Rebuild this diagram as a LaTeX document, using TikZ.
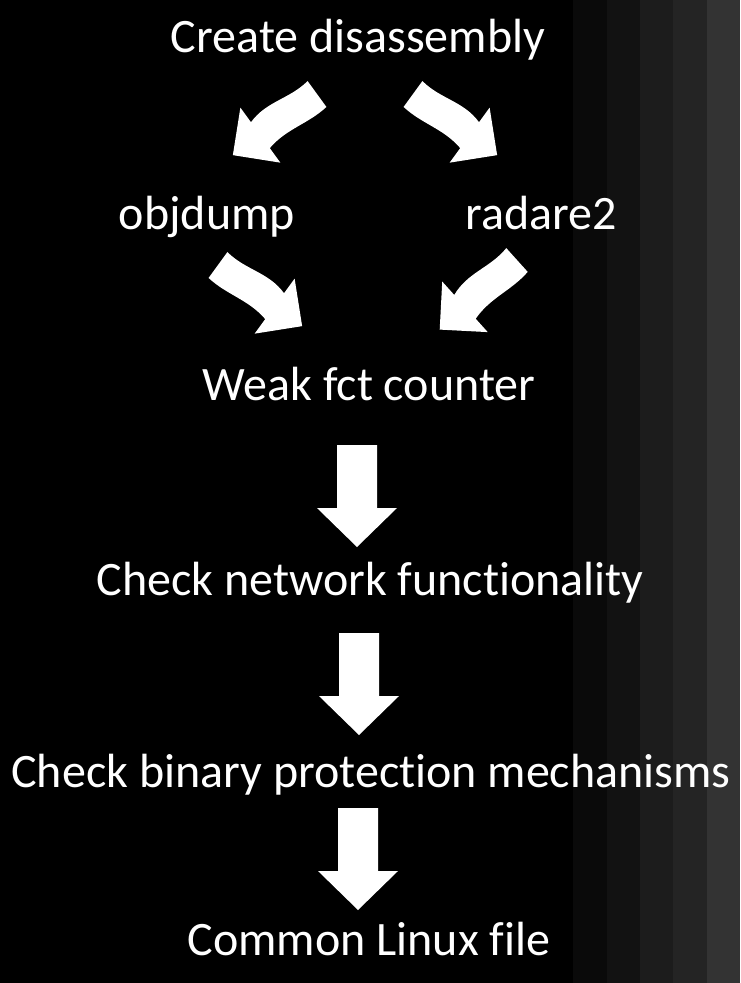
\documentclass[tikz,border=0pt]{standalone}
\usepackage{fontspec}
\setmainfont{Carlito}[Ligatures=NoCommon]
\tikzset{
  lbl/.style={text=white,font=\fontsize{36}{43}\selectfont,inner sep=0pt,anchor=base},
  bendarrow/.pic={
    \fill[white] (0,16) .. controls (25,19) and (45,10) .. (70,16) -- (70,34)
      -- (104,0) -- (70,-34) -- (70,-16) .. controls (45,-24) and (25,-12) .. (0,-16) -- cycle;
  },
  downarrow/.pic={
    \fill[white] (-20,0) -- (20,0) -- (20,-63) -- (40,-63) -- (0,-102)
      -- (-40,-63) -- (-20,-63) -- cycle;
  }
}
\begin{document}
\begin{tikzpicture}[x=0.75pt,y=0.75pt]
        % background
        \fill[black] (0,0) rectangle (740,-983);
        \fill[black!96!white] (573,0) rectangle (607,-983);
        \fill[black!93!white] (607,0) rectangle (640,-983);
        \fill[black!89!white] (640,0) rectangle (673,-983);
        \fill[black!86!white] (673,0) rectangle (707,-983);
        \fill[black!80!white] (707,0) rectangle (740,-983);
        \useasboundingbox (0,0) rectangle (740,-983);
        % texts
        \node[lbl] (create) at (358,-52) {Create disassembly};
        \node[lbl] (objdump) at (207,-229) {objdump};
        \node[lbl] (radare) at (541,-229) {radare2};
        \node[lbl] (weak) at (369,-400) {Weak fct counter};
        \node[lbl] (network) at (370,-595) {Check network functionality};
        \node[lbl] (binary) at (371,-787) {Check binary protection mechanisms};
        \node[lbl] (linux) at (369,-955) {Common Linux file};
        % arrows
        \pic[rotate=216] at (317,-94) {bendarrow};
        \pic[xscale=-1,rotate=216] at (413,-94) {bendarrow};
        \pic[xscale=-1,rotate=216] at (218,-265) {bendarrow};
        \pic[rotate=222] at (517,-260) {bendarrow};
        \pic at (357,-445) {downarrow};
        \pic at (359,-633) {downarrow};
        \pic at (358,-808) {downarrow};
\end{tikzpicture}
\end{document}
